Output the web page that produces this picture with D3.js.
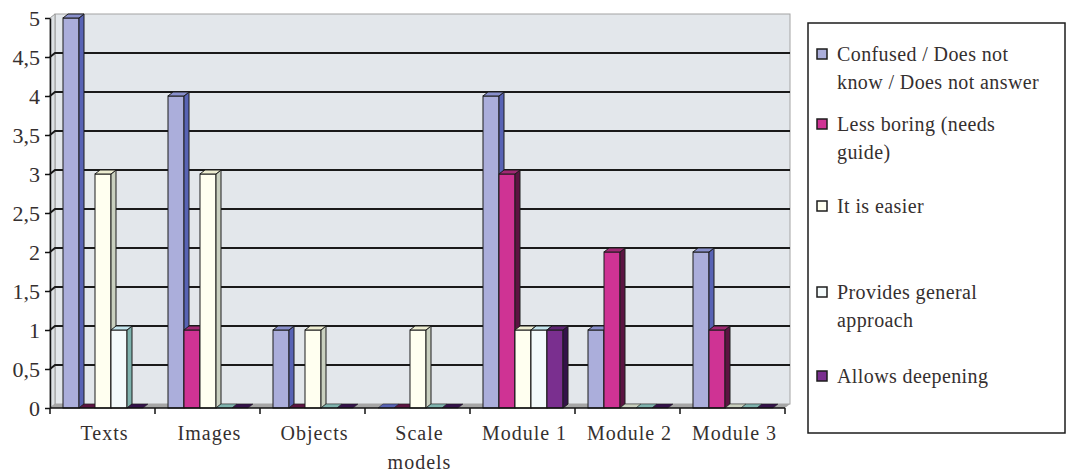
<!DOCTYPE html>
<html>
<head>
    <meta charset="UTF-8">
    <script src="https://d3js.org/d3.v7.min.js"></script>
</head>
<body style="margin:0">
    <script>

        // categories on the x axis (multi-line labels split on "\n")
        var categories = ["Texts", "Images", "Objects", "Scale\nmodels", "Module 1", "Module 2", "Module 3"];

        // one array per answer, in category order
        var confused = [5, 4, 1, 0, 4, 1, 2];
        var lessBoring = [0, 1, 0, 0, 3, 2, 1];
        var easier = [3, 3, 1, 1, 1, 0, 0];
        var general = [1, 0, 0, 0, 1, 0, 0];
        var deepening = [0, 0, 0, 0, 1, 0, 0];

        var seriesNames = ["Confused / Does not\nknow / Does not answer", "Less boring (needs\nguide)", "It is easier", "Provides general\napproach", "Allows deepening"];
        var yTicks = [0, 0.5, 1, 1.5, 2, 2.5, 3, 3.5, 4, 4.5, 5];

        var allSeries = [confused, lessBoring, easier, general, deepening];

        // front, side, top colours of each series
        var colors = [
            { front: "#abaedb", side: "#5863b4", top: "#8990cc" },
            { front: "#cf3394", side: "#5c1442", top: "#a02873" },
            { front: "#fffff0", side: "#c9d0bf", top: "#eeeed2" },
            { front: "#f3fafb", side: "#7fb3ae", top: "#c4e6ee" },
            { front: "#7a2f8f", side: "#34124a", top: "#5e2473" }
        ];

        var width = 1073, height = 475;
        var dx = 5, dy = 4; // depth of the 3d effect
        var textColor = "#352f2f";

        var svg = d3.select("body")
            .append("svg")
            .attr("width", width)
            .attr("height", height)
            .attr("font-family", "Liberation Serif");

        // scales
        var x = d3.scaleBand()
            .domain(categories)
            .range([50, 785]);

        var xs = d3.scaleBand()
            .domain(d3.range(allSeries.length))
            .range([13, 93]);

        var y = d3.scaleLinear()
            .domain([0, 5])
            .range([408, 18]);

        var x0 = x.range()[0], x1 = x.range()[1];

        // back wall, left wall and floor
        svg.append("rect")
            .attr("x", x0 + dx).attr("y", y(5) - dy)
            .attr("width", x1 - x0).attr("height", y(0) - y(5))
            .attr("fill", "#e3e7eb")
            .attr("stroke", "#a4a4a4");
        svg.append("polygon")
            .attr("points", [[x0, y(5)], [x0 + dx, y(5) - dy], [x0 + dx, y(0) - dy], [x0, y(0)]].join(" "))
            .attr("fill", "#dde1e4")
            .attr("stroke", "#9a9a9a");
        svg.append("polygon")
            .attr("points", [[x0, y(0)], [x0 + dx, y(0) - dy], [x1 + dx, y(0) - dy], [x1, y(0)]].join(" "))
            .attr("fill", "#a6a6a6");

        // gridlines on the back wall
        svg.selectAll("grid")
            .data(yTicks.filter(function (d) { return d > 0 && d < 5; }))
            .enter()
            .append("polyline")
            .attr("points", function (d) {
                return [[x0, y(d)], [x0 + dx, y(d) - dy], [x1 + dx, y(d) - dy]].join(" ");
            })
            .attr("fill", "none")
            .attr("stroke", "#1a1a1a")
            .attr("stroke-width", 2);

        // bars, drawn left to right so each covers the side of the one before
        var bars = [];
        categories.forEach(function (c, ci) {
            allSeries.forEach(function (s, si) {
                bars.push({ cat: c, si: si, value: s[ci] });
            });
        });

        var g = svg.selectAll("bar")
            .data(bars)
            .enter()
            .append("g");

        g.each(function (d) {
            var sel = d3.select(this);
            var bx = x(d.cat) + xs(d.si), bw = xs.bandwidth();
            var top = y(d.value), base = y(0);
            var col = colors[d.si];
            if (d.value > 0) {
                sel.append("rect")
                    .attr("x", bx).attr("y", top)
                    .attr("width", bw).attr("height", base - top)
                    .attr("fill", col.front)
                    .attr("stroke", "#1c1c1c").attr("stroke-width", 1);
                sel.append("polygon")
                    .attr("points", [[bx + bw, top], [bx + bw + dx, top - dy], [bx + bw + dx, base - dy], [bx + bw, base]].join(" "))
                    .attr("fill", col.side)
                    .attr("stroke", "#1c1c1c").attr("stroke-width", 1);
            }
            sel.append("polygon")
                .attr("points", [[bx, top], [bx + dx, top - dy], [bx + bw + dx, top - dy], [bx + bw, top]].join(" "))
                .attr("fill", d.value > 0 ? col.top : col.side)
                .attr("stroke", "#1c1c1c").attr("stroke-width", d.value > 0 ? 1 : 0.5);
        });

        // Y axis
        var yAxis = svg.append("g")
            .attr("transform", "translate(" + x0 + ",0)")
            .call(d3.axisLeft(y).tickValues(yTicks).tickSize(5).tickSizeOuter(0)
                .tickFormat(function (d) { return String(d).replace(".", ","); }));
        yAxis.attr("font-family", "Liberation Serif").attr("font-size", 22);
        yAxis.select(".domain").attr("stroke", "#111").attr("stroke-width", 1.5);
        yAxis.selectAll(".tick line").attr("stroke", "#111").attr("stroke-width", 1.5);
        yAxis.selectAll("text")
            .attr("x", -10)
            .attr("dy", "0.34em")
            .attr("font-family", "Liberation Serif")
            .attr("font-size", 22)
            .attr("fill", textColor);

        // X axis with tick marks between categories
        svg.append("line")
            .attr("x1", x0).attr("x2", x1)
            .attr("y1", y(0)).attr("y2", y(0))
            .attr("stroke", "#111").attr("stroke-width", 1.5);
        svg.selectAll("xtick")
            .data(categories.concat(["end"]))
            .enter()
            .append("line")
            .attr("x1", function (d, i) { return x0 + i * x.bandwidth(); })
            .attr("x2", function (d, i) { return x0 + i * x.bandwidth(); })
            .attr("y1", y(0)).attr("y2", y(0) + 6)
            .attr("stroke", "#111").attr("stroke-width", 1.5);

        // x labels, one text per line
        categories.forEach(function (c) {
            c.split("\n").forEach(function (line, li) {
                svg.append("text")
                    .attr("x", x(c) + x.bandwidth() / 2 + 2)
                    .attr("y", 440 + li * 29)
                    .attr("text-anchor", "middle")
                    .attr("font-family", "Liberation Serif")
                    .attr("font-size", 20)
                    .attr("letter-spacing", 1)
                    .attr("fill", textColor)
                    .text(line);
            });
        });

        // legend box
        svg.append("rect")
            .attr("x", 808).attr("y", 23)
            .attr("width", 257).attr("height", 410)
            .attr("fill", "#ffffff")
            .attr("stroke", "#1c1c1c").attr("stroke-width", 1.5);

        var legendY = [55, 125, 207, 293, 377];

        seriesNames.forEach(function (name, i) {
            svg.append("rect")
                .attr("x", 817).attr("y", legendY[i] - 6)
                .attr("width", 10).attr("height", 10)
                .attr("fill", colors[i].front)
                .attr("stroke", "#1c1c1c").attr("stroke-width", 1.5);
            name.split("\n").forEach(function (line, li) {
                svg.append("text")
                    .attr("x", 837)
                    .attr("y", legendY[i] + 6 + li * 28)
                    .attr("font-family", "Liberation Serif")
                    .attr("font-size", 20)
                    .attr("letter-spacing", 0.4)
                    .attr("fill", textColor)
                    .text(line);
            });
        });

    </script>
</body>
</html>
